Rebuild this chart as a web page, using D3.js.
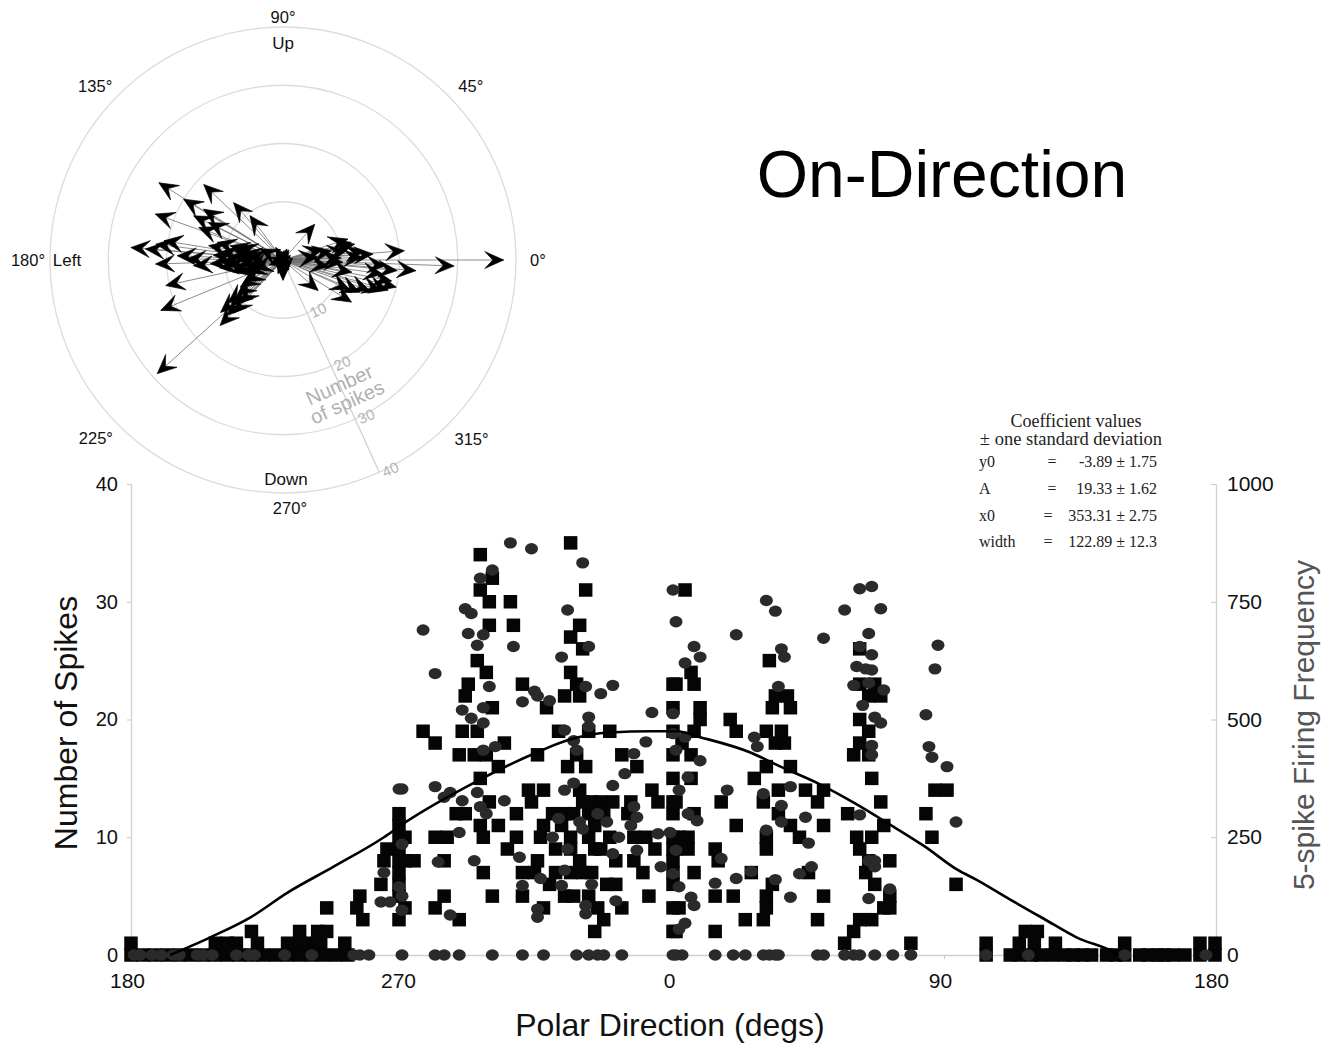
<!DOCTYPE html>
<html>
<head>
<meta charset="utf-8">
<script src="https://cdn.jsdelivr.net/npm/d3@7"></script>
<style>
  body { margin: 0; background: #fff; }
  svg { display: block; font-family: "Liberation Sans", Arial, Helvetica, sans-serif; }
</style>
</head>
<body>
<div id="chart"></div>
<script>
// ---- polar plot: [direction in degrees, number of spikes]
const arrowsRight = [
  [0, 37.9], [358, 29.4], [355.4, 22.9], [4.4, 20.9], [354.7, 19.7], [346.5, 20.0], [342.7, 17.7],
  [340.6, 15.8], [328.4, 13.8], [337.2, 14.3], [319, 8], [3.8, 15.5], [1.9, 13.7], [12.5, 12.6],
  [14.5, 12.1], [357.8, 10.3], [10.8, 8.5], [48.4, 8.2], [356.9, 17.7], [352, 17.3], [17.9, 11.7],
  [15.4, 7.1], [349, 19.0], [344, 18.8], [8, 11], [6, 14], [2, 10], [350, 12], [336, 12.5],
  [352, 8], [5, 6]
];
const arrowsLeft = [
  [148.1, 25.1], [136.4, 18.8], [148.5, 20], [130.7, 13], [126.7, 9.5], [160.2, 23.3], [153.7, 17.1],
  [158.9, 15.5], [175.3, 26.2], [175.4, 23.7], [172.9, 22], [170.8, 20.7], [181.8, 21.9], [177.7, 18.2],
  [179.4, 16.5], [183.6, 15.4], [192.3, 20.6], [202.4, 22.7], [222.1, 29.1], [226.2, 15.6], [224.7, 13.5],
  [222.6, 11.5], [217.6, 10], [212.4, 8.7], [210.4, 7.5], [165, 11.7], [173, 10.9], [182.1, 10.8],
  [164.9, 9.4], [178.8, 7.9], [188.9, 6.3], [196.9, 5.3], [154.4, 4.4], [147.4, 16.2], [153.2, 14.3],
  [168, 9], [185, 9.5], [190, 8.5], [175, 8.8], [170, 7], [186, 7.5], [193, 9], [180, 10], [176, 12],
  [163, 8], [195, 7], [200, 6.5], [172, 6], [183, 12.5], [169, 13], [187, 11], [227, 12.5], [220, 14],
  [218, 12], [225, 10.5]
];
const arrowsCentre = [[270, 3.3], [270, 3.5], [71.4, 2], [120, 2.5], [60, 2], [250, 2.5], [300, 2], [200, 2.5], [30, 1.5]];
const polarRings = [10, 20, 30, 40];
const polarLabels = [
  { a: 90, text: "90°", r: 243 }, { a: 42.8, text: "45°", r: 256 }, { a: 0, text: "0°", r: 255 },
  { a: 316.5, text: "315°", r: 260 }, { a: 271.6, text: "270°", r: 248 }, { a: 223.5, text: "225°", r: 258 },
  { a: 180, text: "180°", r: 255 }, { a: 137.2, text: "135°", r: 256 },
  { a: 90, text: "Up", r: 217 }, { a: 270.8, text: "Down", r: 220 }, { a: 180, text: "Left", r: 216 }
];

// ---- scatter: [polar direction (-180..180), number of spikes]
const squaresWest = [
  [-180, 0], [-176, 0], [-172, 0], [-168, 0], [-164, 0], [-160, 0], [-156, 0], [-152, 0], [-148, 0], [-144, 0],
  [-140, 0], [-136, 0], [-132, 0], [-128, 0], [-124, 0], [-120, 0], [-116, 0], [-112, 0], [-108, 0],
  [-180, 1], [-152, 1], [-148, 1], [-145, 1], [-138, 1], [-128, 1], [-124, 1], [-121, 1], [-117, 1], [-109, 1],
  [-140, 2], [-124, 2], [-118, 2], [-115, 2], [-103, 3], [-115, 4], [-105, 4], [-104, 5], [-97, 6], [-96, 8], [-95, 9],
  [-91, 3], [-91, 5], [-91, 6], [-91, 7], [-91, 8], [-91, 9], [-91, 10], [-91, 11], [-91, 12], [-89, 4], [-89, 8], [-89, 10]
];
const squaresMidWest = [
  [-64, 34], [-60, 32], [-64, 31], [-61, 30], [-54, 30], [-61, 28], [-53, 28], [-34, 35], [-29, 31], [-31, 28],
  [-34, 27], [-30, 26], [-65, 25], [-62, 24], [-34, 24], [-32, 23], [-68, 23], [-50, 23], [-36, 22], [-31, 22],
  [-69, 22], [-60, 21], [-42, 21], [-83, 19], [-79, 18], [-70, 19], [-65, 19], [-38, 19], [-28, 19], [-21, 19],
  [-56, 18], [-71, 17], [-66, 17], [-62, 17], [-45, 17], [-32, 17], [-17, 17], [-58, 16], [-64, 15], [-35, 16],
  [-29, 16], [-12, 16], [-48, 14], [-43, 14], [-31, 14], [-72, 12], [-69, 12], [-61, 13], [-47, 13], [-40, 12],
  [-36, 12], [-27, 13], [-24, 13], [-20, 13], [-14, 13], [-7, 14], [-5, 13], [-28, 12], [-23, 12], [-64, 11],
  [-43, 11], [-79, 10], [-75, 10], [-63, 10], [-52, 10], [-44, 10], [-34, 10], [-28, 10], [-13, 10], [-9, 10],
  [-39, 9], [-34, 9], [-26, 9], [-86, 8], [-76, 8], [-45, 8], [-19, 8], [-13, 8], [-63, 7], [-50, 7], [-46, 7],
  [-39, 7], [-34, 7], [-30, 7], [-22, 6], [-19, 6], [-76, 5], [-60, 5], [-50, 5], [-33, 5], [-28, 5], [-79, 4],
  [-43, 4], [-25, 4], [-17, 4], [-71, 3], [-23, 3], [-26, 2],
  [-37, 11], [-33, 12], [-30, 13], [-26, 11], [-21, 10], [-24, 9], [-31, 8], [-27, 7], [-36, 5], [-41, 6],
  [-55, 9], [-58, 11], [-52, 12], [-10, 7], [-8, 5], [-6, 9], [-15, 12],
  [0, 2], [0, 4], [0, 6], [0, 7], [0, 8], [0, 9], [0, 10], [0, 12], [0, 13], [0, 15], [0, 17], [0, 19], [0, 21], [0, 23]
];
const squaresMidEast = [
  [4, 31], [6, 24], [1, 23], [7, 23], [9, 21], [7, 19], [9, 20], [3, 18], [6, 17], [6, 15], [1, 13], [7, 12],
  [2, 10], [5, 10], [1, 9], [5, 9], [7, 7], [2, 4], [1, 2],
  [19, 20], [21, 19], [32, 25], [34, 22], [38, 22], [33, 21], [39, 21], [31, 19], [36, 19], [34, 18], [37, 18],
  [31, 16], [39, 16], [27, 15], [35, 14], [44, 14], [50, 14], [16, 13], [30, 13], [48, 13], [35, 12], [39, 11],
  [42, 10], [21, 11], [31, 10], [50, 11], [31, 9], [14, 9], [15, 8], [26, 7], [45, 7], [33, 6], [14, 5], [20, 5],
  [31, 5], [50, 5], [31, 4], [24, 3], [30, 3], [48, 3], [14, 2],
  [62, 26], [62, 23], [67, 23], [65, 22], [69, 22], [62, 20], [65, 19], [62, 18], [60, 17], [65, 17], [66, 15],
  [69, 13], [58, 12], [70, 11], [61, 10], [66, 10], [62, 9], [65, 8], [72, 8], [64, 7], [67, 6], [72, 5], [70, 4],
  [72, 4], [66, 3], [62, 3], [60, 2], [57, 1], [79, 1],
  [87, 14], [91, 14], [84, 12], [86, 10], [94, 6]
];
const squaresEast = [
  [104, 0], [112, 0], [115, 0], [119, 0], [122, 0], [126, 0], [130, 0], [133, 0], [136, 0], [139, 0], [144, 0],
  [147, 0], [150, 0], [155, 0], [158, 0], [161, 0], [163, 0], [166, 0], [170, 0], [175, 0], [180, 0],
  [104, 1], [115, 1], [120, 1], [127, 1], [150, 1], [175, 1], [180, 1], [117, 2], [121, 2]
];
const circlesWest = [
  [-179, 0], [-177, 0], [-173, 0], [-170, 0], [-166, 0], [-164, 0], [-158, 0], [-156, 0], [-153, 0], [-145, 0],
  [-141, 0], [-139, 0], [-129, 0], [-120, 0], [-106, 0], [-104, 0], [-101, 0], [-90, 0],
  [-91, 14.1], [-96, 7], [-97, 4.5], [-94, 4.5], [-91, 5.8]
];
const circlesMidWest = [
  [-54, 35], [-47, 34.5], [-30, 33.3], [-60, 32.7], [-64, 32], [-69, 29.4], [-67, 29], [-35, 29.3], [-83, 27.6],
  [-68, 27.3], [-63, 27.2], [-65, 26.3], [-53, 26.2], [-28, 26.2], [-37, 25.3], [-79, 23.9], [-61, 22.8],
  [-46, 22.4], [-45, 22], [-41, 21.6], [-50, 21.5], [-29, 22.8], [-24, 22.2], [-20, 22.9], [-70, 20.8],
  [-63, 21], [-67, 20.1], [-63, 19.7], [-28, 20.2], [-28, 19.4], [-36, 19.1], [-7, 20.6], [-9, 18.1], [-13, 17.1],
  [-16, 15.4], [-33, 18.2], [-32, 17.4], [-59, 17.7], [-63, 17.4], [-90, 14.1], [-79, 14.3], [-76, 13.4],
  [-74, 13.8], [-70, 13.1], [-65, 13.8], [-56, 13.1], [-36, 14], [-33, 14.6], [-20, 14.4], [-64, 12.6], [-62, 12],
  [-38, 11.6], [-31, 11.3], [-22, 11.3], [-13, 12.6], [-12, 11.7], [-14, 11], [-71, 10.4], [-5, 10.3], [-1, 10.4],
  [-30, 10.7], [-90, 9.4], [-66, 8], [-51, 8.3], [-78, 7.9], [-36, 7.2], [-44, 6.5], [-20, 8.6], [-12, 8.9],
  [-4, 7.5], [-50, 5.9], [-37, 5.9], [-19, 4.6], [-74, 3.4], [-45, 3.9], [-45, 3.2], [-29, 4.2], [-29, 3.5],
  [-90, 5], [-90, 3.8], [-40, 10], [-25, 12], [-18, 10], [-35, 9], [-27, 6],
  [-79, 0], [-76, 0], [-71, 0], [-60, 0], [-50, 0], [-43, 0], [-32, 0], [-28, 0], [-25, 0], [-23, 0], [-17, 0], [0, 0]
];
const circlesMidEast = [
  [0, 31], [1, 28.3], [7, 26.2], [9, 25.3], [4, 24.8], [21, 27.2], [31, 30.1], [34, 29.2], [36, 26], [37, 25.3],
  [35, 22.8], [50, 26.9], [57, 29.3], [62, 31.1], [66, 31.3], [69, 29.4], [65, 27.3], [62, 26.2], [66, 25.5],
  [61, 24.5], [64, 24.3], [66, 24.2], [60, 22.9], [65, 23.1], [70, 22.5], [63, 21.2], [67, 20.2], [69, 19.7],
  [66, 17.8], [66, 17], [0, 20.5], [0, 18.8], [1, 17.4], [4, 18.5], [9, 16.5], [5, 15.1], [2, 14], [5, 12],
  [8, 11.4], [1, 8.9], [0, 6.9], [2, 5.8], [6, 4.9], [7, 4.2], [4, 2.7], [2, 2.2], [27, 18.5], [28, 17.7],
  [18, 14], [30, 13.7], [36, 12.7], [39, 14.3], [36, 11.3], [31, 10.6], [45, 9.5], [44, 11.7], [16, 8.2],
  [14, 6.1], [21, 6.5], [26, 7.1], [34, 6.4], [39, 4.9], [42, 6.9], [46, 7.5], [62, 11.9], [65, 8], [67, 8],
  [65, 4.8], [72, 5.6], [67, 7.5], [84, 20.4], [85, 17.7], [86, 16.8], [91, 16], [88, 26.3], [87, 24.3], [94, 11.3],
  [1, 0], [3, 0], [14, 0], [20, 0], [24, 0], [30, 0], [32, 0], [34, 0], [35, 0], [48, 0], [50, 0], [57, 0],
  [60, 0], [62, 0], [67, 0], [73, 0], [79, 0]
];
const circlesEast = [[104, 0], [118, 0], [150, 0], [177, 0]];

// fitted curve
const fitDir = [-167, -153.7, -140.3, -128, -112.7, -96, -88.7, -66.3, -45.3, -34.3, -21, -7, 1.3, 9, 25.7, 35.7, 48, 60.3, 71.3, 83.7, 94.7, 100.7, 112, 123, 134, 146.3, 148];
const fitSpikes = [0, 1.5, 3.2, 5.3, 7.5, 10, 11.3, 14.6, 17.2, 18.3, 18.9, 19, 19, 18.5, 17.2, 16, 14.6, 12.9, 11.2, 9.2, 7.2, 6.4, 4.7, 3.1, 1.5, 0.25, 0];

const xTicks = [-180, -90, 0, 90, 180];
const yTicks = [0, 10, 20, 30, 40];
const freqTicks = [0, 250, 500, 750, 1000];

const coefNames = ["y0", "A", "x0", "width"];
const coefValues = ["-3.89 ± 1.75", "19.33 ± 1.62", "353.31 ± 2.75", "122.89 ± 12.3"];

const width = 1336;
const height = 1048;

const svg = d3.select('#chart')
  .append('svg')
  .attr('width', width)
  .attr('height', height)
  .attr('viewBox', `0 0 ${width} ${height}`);

svg.append('rect').attr('width', width).attr('height', height).attr('fill', '#fff');

// ===== Polar plot =====
const cx = 283, cy = 260;
const rScale = d3.scaleLinear().domain([0, 40]).range([0, 233]);
const rad = a => a * Math.PI / 180;
const polar = svg.append('g').attr('transform', `translate(${cx},${cy})`);

polar.selectAll('circle.ring')
  .data(polarRings)
  .join('circle')
  .attr('class', 'ring')
  .attr('r', d => rScale(d))
  .attr('fill', 'none')
  .attr('stroke', '#dcdcdc')
  .attr('stroke-width', 1.3);

// radial axis
const axisAngle = 294.4;
polar.append('line')
  .attr('x1', 0).attr('y1', 0)
  .attr('x2', rScale(40) * Math.cos(rad(axisAngle)))
  .attr('y2', -rScale(40) * Math.sin(rad(axisAngle)))
  .attr('stroke', '#cfcfcf')
  .attr('stroke-width', 1.2);

polar.selectAll('text.rtick')
  .data(polarRings)
  .join('text')
  .attr('class', 'rtick')
  .attr('transform', d => {
    const px = rScale(d) * Math.cos(rad(axisAngle)) + 11;
    const py = -rScale(d) * Math.sin(rad(axisAngle)) - 3;
    return `translate(${px},${py}) rotate(-24.4)`;
  })
  .attr('text-anchor', 'middle')
  .attr('dominant-baseline', 'central')
  .attr('font-size', 15)
  .attr('fill', '#b4b4b4')
  .text(d => d);

const spikeLabel = polar.append('text')
  .attr('transform', 'translate(60,133) rotate(-24.4)')
  .attr('text-anchor', 'middle')
  .attr('font-size', 20)
  .attr('fill', '#b0b0b0');
spikeLabel.append('tspan').attr('x', 0).attr('y', -2).text('Number');
spikeLabel.append('tspan').attr('x', 0).attr('y', 17).text('of spikes');

const arrows = arrowsRight.concat(arrowsLeft, arrowsCentre);
const tip = d => [rScale(d[1]) * Math.cos(rad(d[0])), -rScale(d[1]) * Math.sin(rad(d[0]))];

polar.selectAll('line.shaft')
  .data(arrows)
  .join('line')
  .attr('class', 'shaft')
  .attr('x1', 0).attr('y1', 0)
  .attr('x2', d => tip(d)[0])
  .attr('y2', d => tip(d)[1])
  .attr('stroke', '#6e6e6e')
  .attr('stroke-width', 0.8);

polar.selectAll('path.head')
  .data(arrows)
  .join('path')
  .attr('class', 'head')
  .attr('d', 'M0,0L-19,-8.5L-11,0L-19,8.5Z')
  .attr('transform', d => `translate(${tip(d)[0]},${tip(d)[1]}) rotate(${-d[0]})`)
  .attr('fill', '#000')
  .attr('stroke', '#000')
  .attr('stroke-width', 0.6)
  .attr('stroke-linejoin', 'round');

polar.selectAll('text.deg')
  .data(polarLabels)
  .join('text')
  .attr('class', 'deg')
  .attr('x', d => d.r * Math.cos(rad(d.a)))
  .attr('y', d => -d.r * Math.sin(rad(d.a)))
  .attr('text-anchor', 'middle')
  .attr('dominant-baseline', 'central')
  .attr('font-size', d => d.text.includes('°') ? 16.5 : 17)
  .attr('fill', '#111')
  .text(d => d.text);

// ===== Title =====
svg.append('text')
  .attr('x', 942).attr('y', 197)
  .attr('text-anchor', 'middle')
  .attr('font-size', 66)
  .attr('fill', '#000')
  .text('On-Direction');

// ===== Coefficients box =====
const coef = svg.append('g')
  .attr('font-family', '"Liberation Serif", "DejaVu Serif", serif')
  .attr('fill', '#222');
coef.append('text').attr('x', 1076).attr('y', 427).attr('text-anchor', 'middle')
  .attr('font-size', 18).text('Coefficient values');
coef.append('text').attr('x', 1071).attr('y', 445).attr('text-anchor', 'middle')
  .attr('font-size', 18.5).text('± one standard deviation');
coef.selectAll('text.cname')
  .data(coefNames)
  .join('text')
  .attr('class', 'cname')
  .attr('x', 979)
  .attr('y', (d, i) => 467 + i * 26.8)
  .attr('font-size', 16)
  .text(d => d);
coef.selectAll('text.ceq')
  .data(coefNames)
  .join('text')
  .attr('class', 'ceq')
  .attr('x', (d, i) => i < 2 ? 1052 : 1048)
  .attr('y', (d, i) => 467 + i * 26.8)
  .attr('text-anchor', 'middle')
  .attr('font-size', 16)
  .text('=');
coef.selectAll('text.cval')
  .data(coefValues)
  .join('text')
  .attr('class', 'cval')
  .attr('x', 1157)
  .attr('y', (d, i) => 467 + i * 26.8)
  .attr('text-anchor', 'end')
  .attr('font-size', 16)
  .text(d => d);

// ===== Scatter plot =====
const x = d3.scaleLinear().domain([-180, 180]).range([131, 1215]);
const y = d3.scaleLinear().domain([0, 40]).range([955, 484]);
const yFreq = d3.scaleLinear().domain([0, 1000]).range([955, 484]);

const styleAxis = g => {
  g.select('.domain').attr('stroke', '#cfcfcf').attr('stroke-width', 1.3);
  g.selectAll('.tick line').attr('stroke', '#c8c8c8');
  g.selectAll('.tick text').attr('fill', '#111').attr('font-family', '"Liberation Sans", Arial, sans-serif');
};

svg.append('g')
  .attr('transform', `translate(${x(-180)},0)`)
  .call(d3.axisLeft(y).tickValues(yTicks).tickSize(4).tickSizeOuter(0).tickPadding(9))
  .call(styleAxis)
  .call(g => g.selectAll('.tick text').attr('font-size', 20));

svg.append('g')
  .attr('transform', `translate(${x(180) + 1},0)`)
  .call(d3.axisRight(yFreq).tickValues(freqTicks).tickFormat(d3.format('d')).tickSize(-5).tickSizeOuter(0).tickPadding(11))
  .call(styleAxis)
  .call(g => g.selectAll('.tick text').attr('font-size', 21));

svg.append('g')
  .attr('transform', `translate(0,${y(0)})`)
  .call(d3.axisBottom(x).tickValues(xTicks).tickFormat(d => d < 0 ? d + 360 : d).tickSize(4).tickSizeOuter(0).tickPadding(14))
  .call(styleAxis)
  .call(g => g.selectAll('.tick text').attr('font-size', 21).attr('dx', -4));

// axis titles
svg.append('text')
  .attr('transform', 'translate(66,723) rotate(-90)')
  .attr('text-anchor', 'middle')
  .attr('dominant-baseline', 'central')
  .attr('font-size', 32)
  .attr('fill', '#111')
  .text('Number of Spikes');

svg.append('text')
  .attr('transform', 'translate(1303,725) rotate(-90)')
  .attr('text-anchor', 'middle')
  .attr('dominant-baseline', 'central')
  .attr('font-size', 30)
  .attr('fill', '#555')
  .text('5-spike Firing Frequency');

svg.append('text')
  .attr('x', 670).attr('y', 1036)
  .attr('text-anchor', 'middle')
  .attr('font-size', 32)
  .attr('fill', '#111')
  .text('Polar Direction (degs)');

const squares = squaresWest.concat(squaresMidWest, squaresMidEast, squaresEast);
const circles = circlesWest.concat(circlesMidWest, circlesMidEast, circlesEast);
const sq = 13.5;

svg.append('g')
  .selectAll('rect')
  .data(squares)
  .join('rect')
  .attr('x', d => x(d[0]) - sq / 2)
  .attr('y', d => y(d[1]) - sq / 2)
  .attr('width', sq)
  .attr('height', sq)
  .attr('fill', '#050505');

svg.append('g')
  .selectAll('ellipse')
  .data(circles)
  .join('ellipse')
  .attr('cx', d => x(d[0]))
  .attr('cy', d => y(d[1]))
  .attr('rx', 6.5)
  .attr('ry', 5.7)
  .attr('fill', '#2a2a2a');

const fit = d3.line()
  .x((d, i) => x(fitDir[i]))
  .y(d => y(d))
  .curve(d3.curveMonotoneX);

svg.append('path')
  .datum(fitSpikes)
  .attr('d', fit)
  .attr('fill', 'none')
  .attr('stroke', '#000')
  .attr('stroke-width', 2.6);
</script>
</body>
</html>
